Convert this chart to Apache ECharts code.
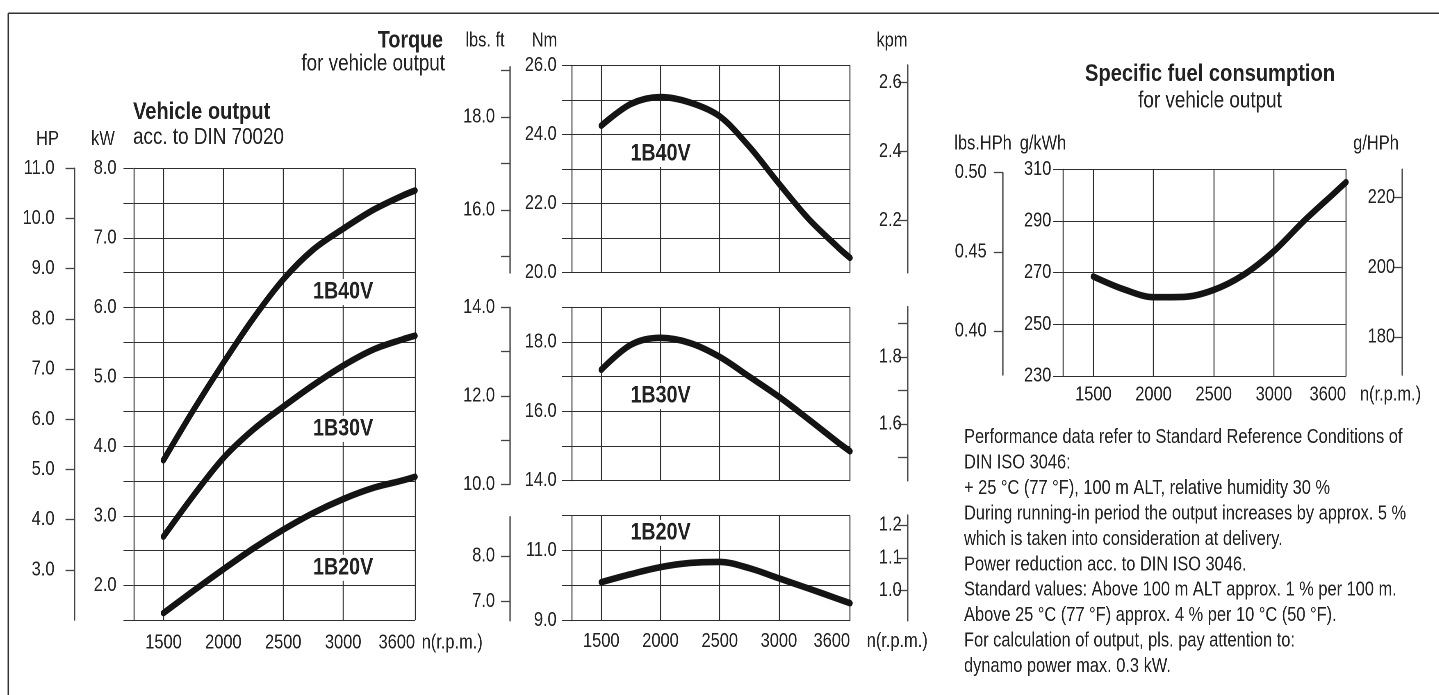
<!DOCTYPE html>
<html><head><meta charset="utf-8">
<script src="https://cdn.jsdelivr.net/npm/echarts@6/dist/echarts.min.js"></script>
<style>
html,body{margin:0;padding:0;background:#fff;overflow:hidden;width:1439px;height:695px}
#c{width:1755px;height:695px;transform:scaleX(0.82);transform-origin:0 0}
</style>
</head><body><div id="c"></div>
<script>
// ---------- data ----------
const rpm = [1500, 1750, 2000, 2250, 2500, 2750, 3000, 3250, 3500, 3600];
const rpmTicks = [1500, 2000, 2500, 3000, 3600];
// vehicle output, kW
const power1B40V = [3.80, 4.52, 5.20, 5.84, 6.40, 6.83, 7.13, 7.40, 7.61, 7.68];
const power1B30V = [2.70, 3.29, 3.83, 4.24, 4.57, 4.88, 5.16, 5.39, 5.54, 5.59];
const power1B20V = [1.60, 1.92, 2.23, 2.53, 2.80, 3.04, 3.24, 3.40, 3.51, 3.56];
// torque, Nm
const torque1B40V = [24.25, 24.88, 25.08, 24.92, 24.52, 23.64, 22.57, 21.55, 20.72, 20.42];
const torque1B30V = [17.20, 17.92, 18.12, 17.97, 17.57, 17.00, 16.42, 15.77, 15.10, 14.85];
const torque1B20V = [10.10, 10.33, 10.53, 10.65, 10.68, 10.50, 10.21, 9.92, 9.62, 9.50];
// specific fuel consumption, g/kWh
const fuelConsumption = [268.5, 263.6, 260.5, 260.6, 263.3, 269.2, 278.3, 290.0, 300.7, 305.0];
// tick labels
const hpTicks = [3, 4, 5, 6, 7, 8, 9, 10, 11];
const lbsftTopTicks = [15, 16, 17, 18, 19], lbsftTopLabels = [16, 18];
const kpmTopTicks = [2.2, 2.4, 2.6];
const lbsftMidTicks = [10, 11, 12, 13, 14], lbsftMidLabels = [10, 12, 14];
const kpmMidTicks = [1.5, 1.6, 1.7, 1.8, 1.9], kpmMidLabels = [1.6, 1.8];
const lbsftLowTicks = [7, 8];
const kpmLowTicks = [1.0, 1.1, 1.2];
const lbsHPhTicks = [0.40, 0.45, 0.50];
const gHPhTicks = [180, 200, 220];
// curve name anchors (rpm, value)
const powerLabelAt = { '1B40V': [3000, 6.22], '1B30V': [3000, 4.25], '1B20V': [3000, 2.25] };
const torqueLabelAt = { '1B40V': [2000, 23.43], '1B30V': [2000, 16.44], '1B20V': [2000, 11.51] };
const noteLines = [
  'Performance data refer to Standard Reference Conditions of',
  'DIN ISO 3046:',
  '+ 25 °C (77 °F), 100 m ALT, relative humidity 30 %',
  'During running-in period the output increases by approx. 5 %',
  'which is taken into consideration at delivery.',
  'Power reduction acc. to DIN ISO 3046.',
  'Standard values: Above 100 m ALT approx. 1 % per 100 m.',
  'Above 25 °C (77 °F) approx. 4 % per 10 °C (50 °F).',
  'For calculation of output, pls. pay attention to:',
  'dynamo power max. 0.3 kW.'
];

// ---------- styling ----------
const SX = 0.82;               // page is drawn wide and condensed horizontally by CSS
const px = v => v / SX;        // horizontal screen pixels -> drawing pixels
const FONT = '"Liberation Sans", Arial, sans-serif';
const TXT = '#222';
const GRIDC = '#2e2e2e';
const AUXC = '#444';
const VW = 1 / SX;             // vertical hairline width
const LBL = { fontFamily: FONT, fontSize: 20, color: TXT };

const pairs = (xs, ys) => xs.map((x, i) => [x, ys[i]]);

function G(left, top, width, height) { return { left: px(left), top: top, width: px(width), height: height }; }
const grids = [
  G(133.5, 168.3, 281.5, 451.7),  // 0 power
  G(571.7, 65.3, 278.3, 207),     // 1 torque 1B40V
  G(571.7, 307.3, 278.3, 173.4),  // 2 torque 1B30V
  G(571.7, 515.7, 278.3, 105),    // 3 torque 1B20V
  G(1063.3, 169.3, 282.7, 206.7), // 4 fuel
  G(510, 66.7, 10, 206.3),        // 5 lbs.ft top
  G(907.3, 65, 10, 207.7),        // 6 kpm top
  G(510, 307.3, 10, 177),         // 7 lbs.ft mid
  G(907.3, 306.7, 10, 174),       // 8 kpm mid
  G(510, 516.7, 10, 104),         // 9 lbs.ft low
  G(907.3, 515, 10, 105.7),       // 10 kpm low
  G(1002.7, 172.7, 10, 202.3),    // 11 lbs.HPh
  G(1401.7, 169.3, 10, 205.7)     // 12 g/HPh
];

function rpmAxis(gi, showLabels, margin) {
  return {
    gridIndex: gi, type: 'value', min: 1250, max: 3600,
    axisLine: { show: true, lineStyle: { color: GRIDC, width: 1 } },
    axisTick: { show: false, customValues: rpmTicks },
    axisLabel: Object.assign({ show: showLabels, customValues: rpmTicks, margin: margin,
      showMaxLabel: true, showMinLabel: true, alignMaxLabel: 'right', formatter: v => String(v) }, LBL),
    splitLine: { show: true, lineStyle: { color: GRIDC, width: VW } }
  };
}
function hiddenX(gi) { return { gridIndex: gi, type: 'value', show: false, min: 0, max: 1 }; }

function mainY(gi, min, max, interval, fmt, margin) {
  return {
    gridIndex: gi, type: 'value', min: min, max: max, interval: interval,
    axisLine: { show: true, lineStyle: { color: GRIDC, width: VW } },
    axisTick: { show: true, length: px(10), lineStyle: { color: GRIDC, width: 1 } },
    axisLabel: Object.assign({ margin: px(margin), formatter: fmt }, LBL),
    splitLine: { show: true, lineStyle: { color: GRIDC, width: 1 } }
  };
}
function auxY(gi, pos, min, max, ticks, labels, digits, margin, inside, offset) {
  return {
    gridIndex: gi, type: 'value', position: pos, offset: px(offset || 0), min: min, max: max,
    axisLine: { show: true, lineStyle: { color: AUXC, width: 1.3 * VW } },
    axisTick: { show: true, inside: inside, length: px(9), customValues: ticks, lineStyle: { color: AUXC, width: 1.3 } },
    axisLabel: Object.assign({ inside: inside, margin: px(margin), customValues: labels,
      showMaxLabel: true, showMinLabel: true, formatter: v => Number(v).toFixed(digits) }, LBL),
    splitLine: { show: false }
  };
}

function curve(xi, yi, ys, name, anchor) {
  return {
    type: 'line', name: name, xAxisIndex: xi, yAxisIndex: yi,
    data: pairs(rpm, ys), smooth: 0.33, showSymbol: false, symbol: 'none',
    lineStyle: { width: 6.6, color: '#141414', cap: 'round', join: 'round' },
    silent: true, animation: false, z: 3,
    markPoint: anchor ? {
      symbol: 'rect', symbolSize: 1, itemStyle: { color: 'rgba(0,0,0,0)' }, silent: true, animation: false,
      label: { show: true, position: 'inside', formatter: '{b}', fontFamily: FONT, fontSize: 24,
        fontWeight: 'bold', color: TXT, backgroundColor: '#fff', padding: [1, 4] },
      data: [{ name: name, coord: anchor }]
    } : undefined
  };
}

const even = v => (Math.round(v) % 2 === 0 ? v.toFixed(1) : '');
const odd = v => (Math.round(v) % 2 !== 0 ? v.toFixed(1) : '');
const whole = v => (Math.abs(v - Math.round(v)) < 1e-9 ? v.toFixed(1) : '');

function txt(x, y, text, opts) {
  opts = opts || {};
  return {
    type: 'text', x: px(x), y: y, silent: true,
    style: {
      text: text, fontFamily: FONT, fontSize: opts.size || 20, fontWeight: opts.bold ? 'bold' : 'normal',
      fill: TXT, align: opts.align || 'left', verticalAlign: 'middle'
    }
  };
}

const graphics = [
  { type: 'line', silent: true, shape: { x1: px(8.3), y1: 13.3, x2: px(1445), y2: 13.3 }, style: { stroke: '#333', lineWidth: 1.5 } },
  { type: 'line', silent: true, shape: { x1: px(8.3), y1: 13.3, x2: px(8.3), y2: 700 }, style: { stroke: '#333', lineWidth: 1.5 * VW } },
  txt(443, 41, 'Torque', { bold: true, size: 24, align: 'right' }),
  txt(445, 64, 'for vehicle output', { size: 23, align: 'right' }),
  txt(133, 112, 'Vehicle output', { bold: true, size: 24.5 }),
  txt(133, 137.5, 'acc. to DIN 70020', { size: 23 }),
  txt(47.5, 139.5, 'HP', { align: 'center' }),
  txt(103, 139.5, 'kW', { align: 'center' }),
  txt(485, 41, 'lbs. ft', { align: 'center' }),
  txt(544.5, 41, 'Nm', { align: 'center' }),
  txt(892, 41, 'kpm', { align: 'center' }),
  txt(1210, 74, 'Specific fuel consumption', { bold: true, size: 24.5, align: 'center' }),
  txt(1210, 101, 'for vehicle output', { size: 23, align: 'center' }),
  txt(983, 144, 'lbs.HPh', { align: 'center' }),
  txt(1043, 144, 'g/kWh', { align: 'center' }),
  txt(1376, 144, 'g/HPh', { align: 'center' }),
  txt(421.7, 643, 'n(r.p.m.)'),
  txt(866.7, 641.7, 'n(r.p.m.)'),
  txt(1360, 395, 'n(r.p.m.)')
];
noteLines.forEach((line, k) => graphics.push(txt(964, 437.5 + k * 25.45, line)));

const option = {
  animation: false,
  backgroundColor: '#fff',
  grid: grids,
  xAxis: [
    rpmAxis(0, true, 13), rpmAxis(1, false, 0), rpmAxis(2, false, 0), rpmAxis(3, true, 11), rpmAxis(4, true, 9),
    hiddenX(5), hiddenX(6), hiddenX(7), hiddenX(8), hiddenX(9), hiddenX(10), hiddenX(11), hiddenX(12)
  ],
  yAxis: [
    mainY(0, 1.5, 8, 0.5, whole, 17),                 // 0 kW
    auxY(0, 'left', 2, 11, hpTicks, hpTicks, 1, 20, false, 59), // 1 HP
    mainY(1, 20, 26, 1, even, 15),                    // 2 Nm top
    mainY(2, 14, 19, 1, even, 15),                    // 3 Nm mid
    mainY(3, 9, 12, 1, odd, 15),                      // 4 Nm low
    mainY(4, 230, 310, 20, v => String(v), 12),       // 5 g/kWh
    auxY(5, 'left', 14.65, 19.086, lbsftTopTicks, lbsftTopLabels, 1, 15, false),   // 6
    auxY(6, 'right', 2.0493, 2.6513, kpmTopTicks, kpmTopTicks, 1, 15.6, true),     // 7
    auxY(7, 'left', 10, 14, lbsftMidTicks, lbsftMidLabels, 1, 15, false),          // 8
    auxY(8, 'right', 1.4315, 1.9494, kpmMidTicks, kpmMidLabels, 1, 15.6, true),    // 9
    auxY(9, 'left', 6.584, 8.86, lbsftLowTicks, lbsftLowTicks, 1, 15, false),      // 10
    auxY(10, 'right', 0.9085, 1.2305, kpmLowTicks, kpmLowTicks, 1, 15.6, true),    // 11
    auxY(11, 'left', 0.3722, 0.5, lbsHPhTicks, lbsHPhTicks, 2, 16, false),         // 12
    auxY(12, 'right', 169.2, 228, gHPhTicks, gHPhTicks, 0, 16.7, true)             // 13
  ],
  series: [
    curve(0, 0, power1B40V, '1B40V', powerLabelAt['1B40V']),
    curve(0, 0, power1B30V, '1B30V', powerLabelAt['1B30V']),
    curve(0, 0, power1B20V, '1B20V', powerLabelAt['1B20V']),
    curve(1, 2, torque1B40V, '1B40V', torqueLabelAt['1B40V']),
    curve(2, 3, torque1B30V, '1B30V', torqueLabelAt['1B30V']),
    curve(3, 4, torque1B20V, '1B20V', torqueLabelAt['1B20V']),
    curve(4, 5, fuelConsumption, 'fuel', null)
  ],
  graphic: graphics
};

const chart = echarts.init(document.getElementById('c'), null, { renderer: 'canvas', devicePixelRatio: 2 });
chart.setOption(option);
</script>
</body></html>
